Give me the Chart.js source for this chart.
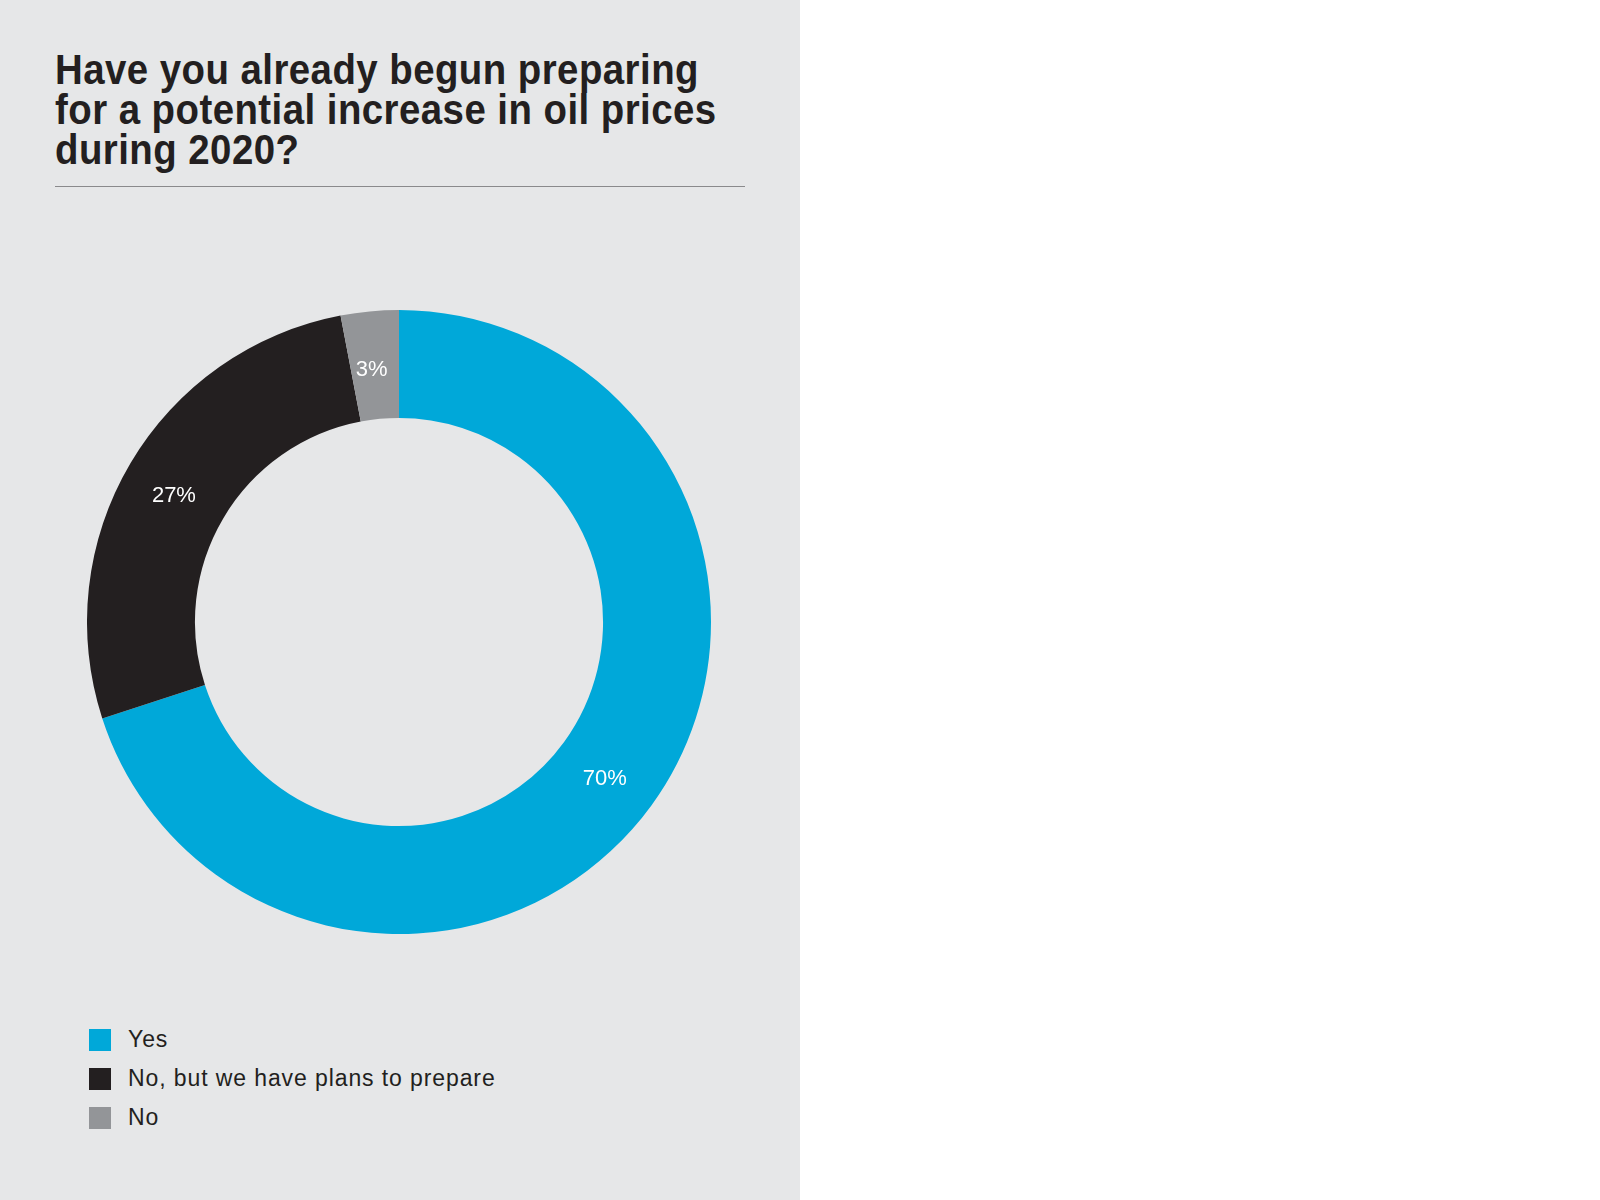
<!DOCTYPE html>
<html lang="en">
<head>
  <meta charset="UTF-8" />
  <title>Oil prices 2020</title>
  <script src="https://cdn.jsdelivr.net/npm/chart.js"></script>
  <style>
    body {
      margin: 0;
      background: #ffffff;
      font-family: 'Liberation Sans', Arial, sans-serif;
    }
    .panel {
      position: absolute;
      left: 0; top: 0;
      width: 800px; height: 1200px;
      background: #e6e7e8;
    }
    h1 {
      position: absolute;
      left: 55px; top: 50px;
      margin: 0;
      white-space: nowrap;
      font-family: 'Liberation Sans', Arial, sans-serif;
      font-weight: bold;
      font-size: 42px;
      line-height: 40px;
      letter-spacing: 0.5px;
      color: #231f20;
      transform: scaleX(0.914);
      transform-origin: left top;
    }
    .rule {
      position: absolute;
      left: 55px; top: 186px;
      width: 690px; height: 1px;
      background: #8a8a8c;
    }
    .chart-box {
      position: absolute;
      left: 87px; top: 310px;
      width: 624px; height: 624px;
    }
    #legend {
      position: absolute;
      left: 89px; top: 1020px;
      margin: 0; padding: 0;
      list-style: none;
    }
    #legend li {
      height: 39px;
      display: flex;
      align-items: center;
      font-size: 23px;
      color: #231f20;
      letter-spacing: 0.9px;
    }
    #legend span {
      display: inline-block;
      width: 22px; height: 22px;
      margin-right: 17px;
    }
  </style>
</head>
<body>
  <div class="panel">
    <h1>Have you already begun preparing<br>for a potential increase in oil prices<br>during 2020?</h1>
    <div class="rule"></div>
    <div class="chart-box"><canvas id="donut"></canvas></div>
    <ul id="legend"></ul>
  </div>
  <script>
    const labels = ['Yes', 'No, but we have plans to prepare', 'No'];
    const values = [70, 27, 3];
    const colors = ['#00a8d9', '#231f20', '#939598'];

    // write the percentage inside each slice
    const sliceLabels = {
      id: 'sliceLabels',
      afterDatasetsDraw(chart) {
        const ctx = chart.ctx;
        const arcs = chart.getDatasetMeta(0).data;
        ctx.save();
        ctx.fillStyle = '#ffffff';
        ctx.font = '22px "Liberation Sans", Arial, sans-serif';
        ctx.textAlign = 'center';
        ctx.textBaseline = 'middle';
        arcs.forEach((arc, i) => {
          const p = arc.tooltipPosition();
          ctx.fillText(values[i] + '%', p.x - 3, p.y + 5);
        });
        ctx.restore();
      }
    };

    new Chart(document.getElementById('donut'), {
      type: 'doughnut',
      data: {
        labels: labels,
        datasets: [{
          data: values,
          backgroundColor: colors,
          borderWidth: 0
        }]
      },
      options: {
        responsive: true,
        maintainAspectRatio: false,
        animation: false,
        cutout: '65.4%',
        plugins: {
          legend: { display: false },
          tooltip: { enabled: false }
        }
      },
      plugins: [sliceLabels]
    });

    const legend = document.getElementById('legend');
    labels.forEach((l, i) => {
      legend.innerHTML += `<li><span style="background:${colors[i]}"></span>${l}</li>`;
    });
  </script>
</body>
</html>
